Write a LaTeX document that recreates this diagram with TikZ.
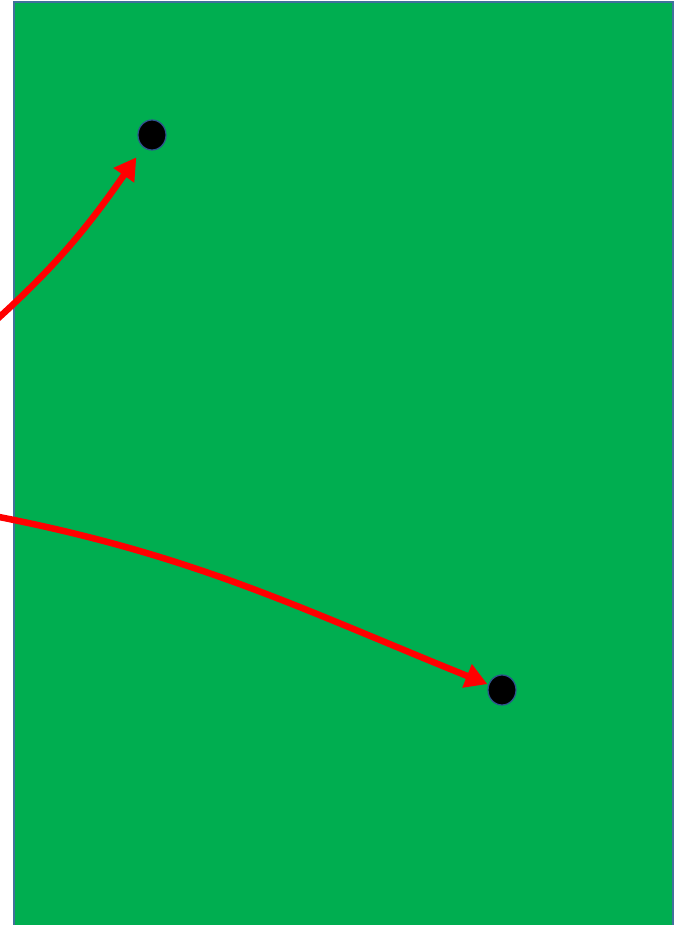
\documentclass[tikz,border=0pt]{standalone}
\usetikzlibrary{arrows.meta,shapes.geometric}
\definecolor{pgreen}{HTML}{00AE50}
\definecolor{pborder}{HTML}{41719C}
\definecolor{dotborder}{HTML}{2F528F}
\tikzset{
  dot/.style={ellipse,fill=black,draw=dotborder,line width=1.2pt,minimum width=28pt,minimum height=30pt,inner sep=0pt},
  redarrow/.style={draw=red,line width=6.5pt,-{Triangle[length=22pt,width=24pt]}}
}
\begin{document}
\begin{tikzpicture}[x=1pt,y=-1pt]
\useasboundingbox (0,0) rectangle (678,925);
\clip (0,0) rectangle (678,925);
\draw[fill=pgreen,draw=pborder,line width=2pt] (14,2) rectangle (673,940);
\node[dot] (d1) at (152,135) {};
\node[dot] (d2) at (502,690) {};
\coordinate (s1) at (-6,322);
\coordinate (s2) at (-6,516);
\draw[redarrow,shorten >=12pt] (s1) to[out=42,in=-125] (d1);
\draw[redarrow,shorten >=1pt] (s2) to[out=-11,in=158] (d2);
\end{tikzpicture}
\end{document}
